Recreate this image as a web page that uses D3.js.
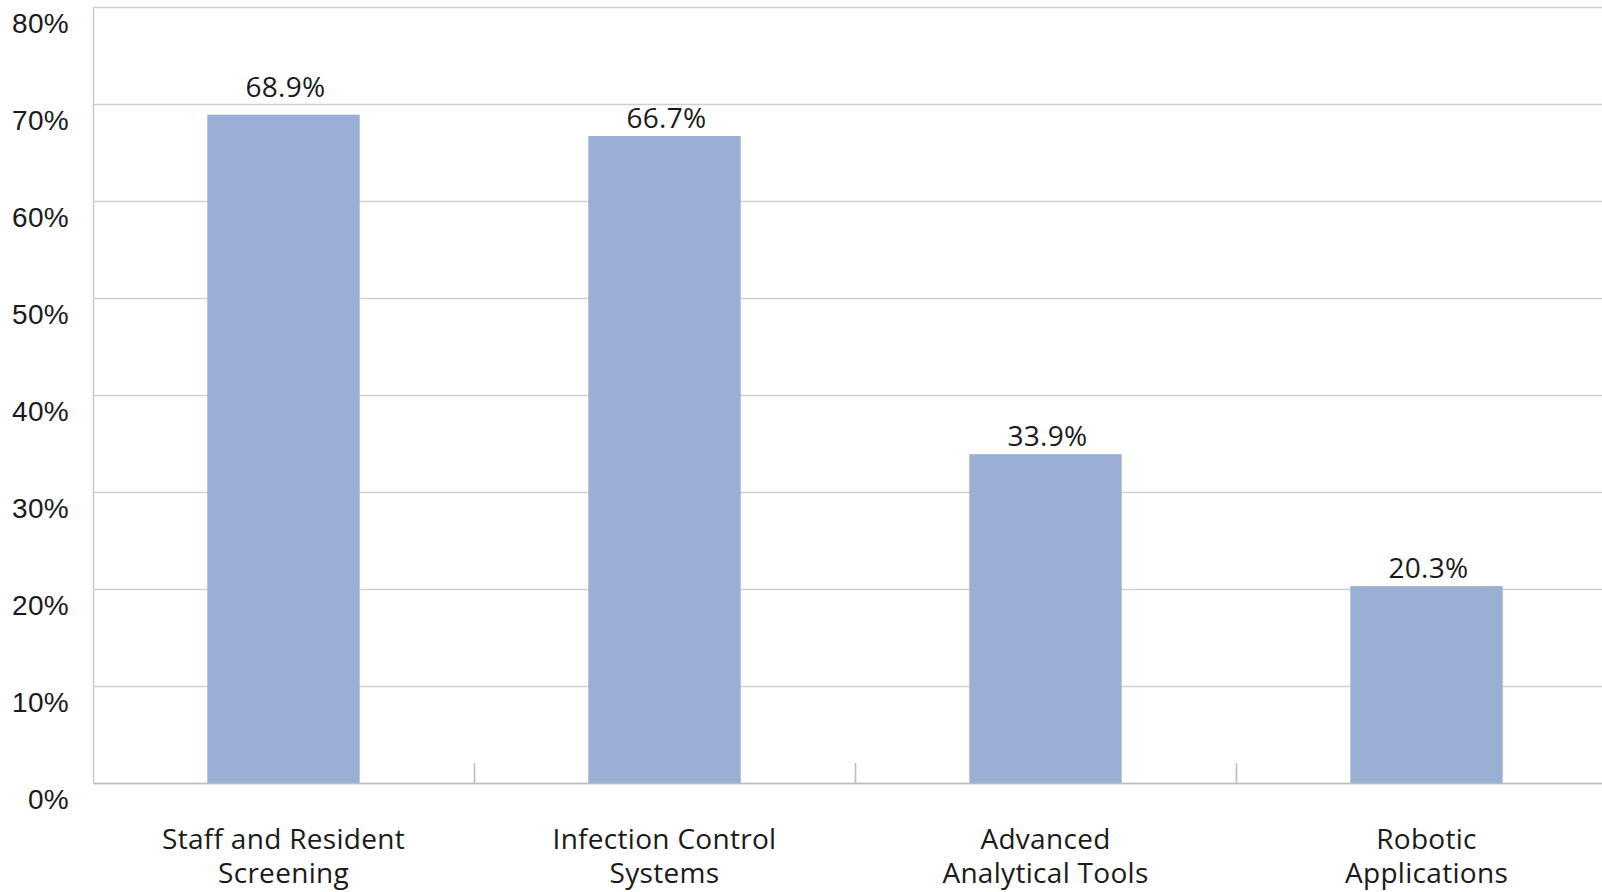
<!DOCTYPE html>
<html>
<head>
<meta charset="utf-8">
<script src="https://cdn.jsdelivr.net/npm/d3@7"></script>
<style>
  body { margin: 0; background: #fff; }
  svg { display: block; font-family: "Open Sans", Lato, sans-serif; }
  .grid line { stroke: #d0d0d0; stroke-width: 1.3; }
  .grid .domain { stroke: #c4c4c4; stroke-width: 1.3; }
  .grid text { fill: #1a1a1a; font-size: 28px; letter-spacing: 0.3px; }
  .base line, .base .domain { stroke: #bdbdbd; stroke-width: 1.6; }
  .label { fill: #1a1a1a; font-size: 28px; letter-spacing: 0.3px; }
</style>
</head>
<body>
<svg id="chart" width="1602" height="892"></svg>
<script>
const categories = [
  ["Staff and Resident", "Screening"],
  ["Infection Control", "Systems"],
  ["Advanced", "Analytical Tools"],
  ["Robotic", "Applications"]
];
const shares = [0.689, 0.667, 0.339, 0.203];
const yTicks = [0, 0.1, 0.2, 0.3, 0.4, 0.5, 0.6, 0.7, 0.8];
// the first value label sits a bit higher in the original
const labelLift = [10, 0, 0, 0];

const svg = d3.select("#chart");
const plotLeft = 93, plotRight = 1617, plotTop = 7, plotBottom = 783;

const keys = categories.map(c => c.join(" "));
const x = d3.scaleBand()
  .domain(keys)
  .range([plotLeft, plotRight])
  .paddingInner(0.6)
  .paddingOuter(0.3);

const y = d3.scaleLinear().domain([0, 0.8]).range([plotBottom, plotTop]);

// gridlines + y labels
const grid = svg.append("g")
  .attr("class", "grid")
  .attr("transform", `translate(${plotLeft},0)`)
  .call(d3.axisLeft(y)
    .tickValues(yTicks)
    .tickFormat(d3.format(".0%"))
    .tickSize(-(plotRight - plotLeft))
    .tickSizeOuter(0)
    .tickPadding(24));
grid.selectAll("text").attr("y", 16).attr("dy", "0.35em");

// bars
svg.selectAll(".bar")
  .data(shares)
  .join("rect")
  .attr("class", "bar")
  .attr("x", (d, i) => x(keys[i]))
  .attr("width", x.bandwidth())
  .attr("y", d => y(d))
  .attr("height", d => y(0) - y(d))
  .attr("fill", "#9aafd4");

// baseline with short ticks between categories
const edges = d3.scaleLinear().domain([0, keys.length]).range([plotLeft, plotRight]);
svg.append("g")
  .attr("class", "base")
  .attr("transform", `translate(0,${plotBottom})`)
  .call(d3.axisBottom(edges)
    .tickValues(d3.range(1, keys.length))
    .tickSize(-20)
    .tickSizeOuter(0)
    .tickFormat(""));

// value labels
svg.selectAll(".value")
  .data(shares)
  .join("text")
  .attr("class", "label value")
  .attr("text-anchor", "middle")
  .attr("x", (d, i) => x(keys[i]) + x.bandwidth() / 2 + 2)
  .attr("y", (d, i) => y(d) - 8 - labelLift[i])
  .text(d => d3.format(".1%")(d));

// category labels
const cat = svg.selectAll(".cat")
  .data(categories)
  .join("text")
  .attr("class", "label cat")
  .attr("text-anchor", "middle")
  .attr("transform", (d, i) => `translate(${x(keys[i]) + x.bandwidth() / 2},849)`);
cat.selectAll("tspan")
  .data(d => d)
  .join("tspan")
  .attr("x", 0)
  .attr("dy", (d, i) => i === 0 ? 0 : 34)
  .text(d => d);
</script>
</body>
</html>
